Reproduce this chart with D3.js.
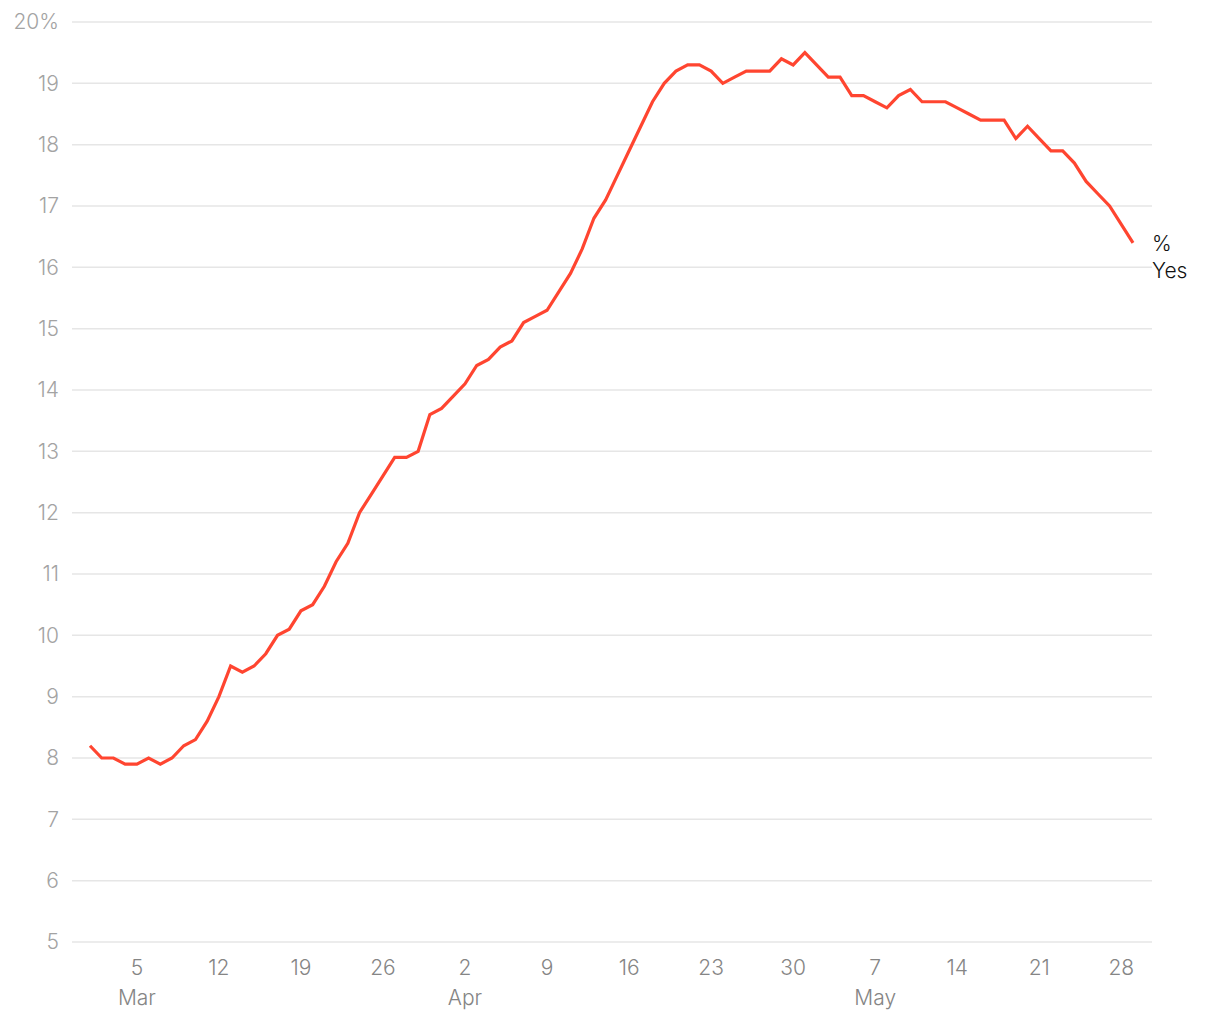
<!DOCTYPE html>
<html>
<head>
  <meta charset="utf-8">
  <script src="https://d3js.org/d3.v7.min.js"></script>
  <style>
    body { margin: 0; background: #fff; font-family: Inter, "Open Sans", sans-serif; }
    .grid line { stroke: #e6e6e6; stroke-width: 1.5; }
    .ylab { fill: #a3a3a3; font-size: 21px; font-weight: 300; }
    .xlab { fill: #858585; font-size: 21px; font-weight: 300; }
  </style>
</head>
<body>
  <script>
    // daily share answering "Yes", starting 1 March
    var startDate = "2020-03-01";
    var pctYes = [
      8.2, 8.0, 8.0, 7.9, 7.9, 8.0, 7.9, 8.0, 8.2, 8.3,
      8.6, 9.0, 9.5, 9.4, 9.5, 9.7, 10.0, 10.1, 10.4, 10.5,
      10.8, 11.2, 11.5, 12.0, 12.3, 12.6, 12.9, 12.9, 13.0, 13.6,
      13.7, 13.9, 14.1, 14.4, 14.5, 14.7, 14.8, 15.1, 15.2, 15.3,
      15.6, 15.9, 16.3, 16.8, 17.1, 17.5, 17.9, 18.3, 18.7, 19.0,
      19.2, 19.3, 19.3, 19.2, 19.0, 19.1, 19.2, 19.2, 19.2, 19.4,
      19.3, 19.5, 19.3, 19.1, 19.1, 18.8, 18.8, 18.7, 18.6, 18.8,
      18.9, 18.7, 18.7, 18.7, 18.6, 18.5, 18.4, 18.4, 18.4, 18.1,
      18.3, 18.1, 17.9, 17.9, 17.7, 17.4, 17.2, 17.0, 16.7, 16.4
    ];
    var yTicks = [5, 6, 7, 8, 9, 10, 11, 12, 13, 14, 15, 16, 17, 18, 19, 20];
    var xTickDates = ["2020-03-05", "2020-03-12", "2020-03-19", "2020-03-26", "2020-04-02",
      "2020-04-09", "2020-04-16", "2020-04-23", "2020-04-30", "2020-05-07",
      "2020-05-14", "2020-05-21", "2020-05-28"];
    var monthLabels = { "2020-03-05": "Mar", "2020-04-02": "Apr", "2020-05-07": "May" };
    var seriesLabel = ["%", "Yes"];

    var w = 1220, h = 1020;
    var t0 = new Date(startDate + "T00:00:00Z");
    var data = pctYes.map(function(v, i) {
      return { date: d3.utcDay.offset(t0, i), value: v };
    });

    var x = d3.scaleUtc()
      .domain(d3.extent(data, function(d) { return d.date; }))
      .range([90, 1133]);
    var y = d3.scaleLinear().domain([5, 20]).range([942, 22]);

    var svg = d3.select("body").append("svg")
      .attr("width", w)
      .attr("height", h);

    // horizontal gridlines
    svg.append("g").attr("class", "grid")
      .selectAll("line").data(yTicks).enter().append("line")
      .attr("x1", 72).attr("x2", 1152)
      .attr("y1", function(d) { return y(d); })
      .attr("y2", function(d) { return y(d); });

    // y labels
    svg.append("g").selectAll("text").data(yTicks).enter().append("text")
      .attr("class", "ylab")
      .attr("x", 59)
      .attr("y", function(d) { return y(d); })
      .attr("dy", "0.35em")
      .attr("text-anchor", "end")
      .text(function(d) { return d === 20 ? "20%" : d; });

    // x labels
    var xt = svg.append("g").selectAll("g").data(xTickDates).enter().append("g")
      .attr("transform", function(d) { return "translate(" + x(new Date(d + "T00:00:00Z")) + ",0)"; });
    xt.append("text")
      .attr("class", "xlab")
      .attr("y", 975)
      .attr("text-anchor", "middle")
      .text(function(d) { return d3.utcFormat("%-d")(new Date(d + "T00:00:00Z")); });
    xt.filter(function(d) { return monthLabels[d]; }).append("text")
      .attr("class", "xlab")
      .attr("y", 1005)
      .attr("text-anchor", "middle")
      .text(function(d) { return monthLabels[d]; });

    // the line
    var line = d3.line()
      .x(function(d) { return x(d.date); })
      .y(function(d) { return y(d.value); });
    svg.append("path")
      .datum(data)
      .attr("fill", "none")
      .attr("stroke", "#ff4530")
      .attr("stroke-width", 3.2)
      .attr("d", line);

    // end label
    var last = data[data.length - 1];
    svg.append("text")
      .attr("x", x(last.date) + 19)
      .attr("y", y(last.value) + 8)
      .style("font-size", "21px")
      .style("font-weight", 300)
      .style("fill", "#111")
      .selectAll("tspan").data(seriesLabel).enter().append("tspan")
      .attr("x", x(last.date) + 19)
      .attr("dy", function(d, i) { return i ? 27 : 0; })
      .text(function(d) { return d; });
  </script>
</body>
</html>
